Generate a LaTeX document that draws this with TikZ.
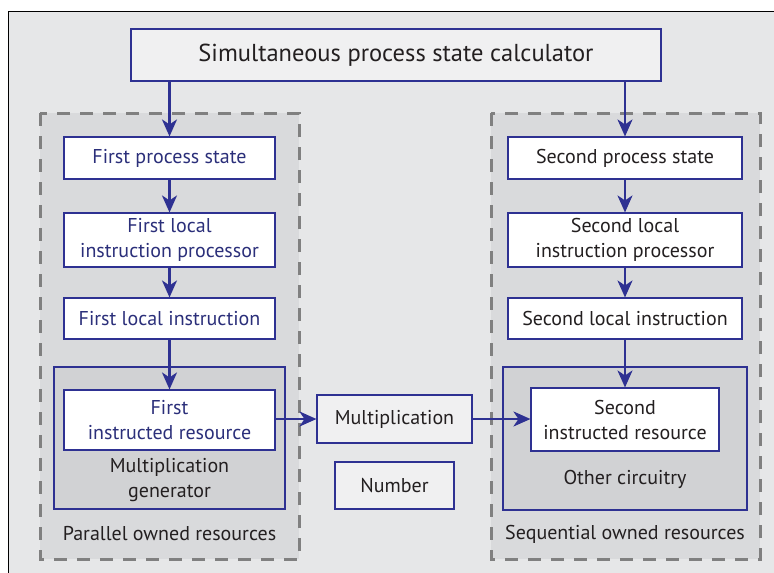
\documentclass[tikz,border=0pt]{standalone}
\usepackage{fontspec}
\setmainfont{PT Sans}
\usetikzlibrary{arrows.meta}
\definecolor{navy}{HTML}{2E3192}
\definecolor{navytext}{HTML}{2B2F7A}
\definecolor{ink}{HTML}{231F20}
\definecolor{pagebg}{HTML}{E6E7E8}
\definecolor{groupbg}{HTML}{D9DADC}
\definecolor{innerbg}{HTML}{D1D2D4}
\definecolor{lightbox}{HTML}{F0F0F1}
\definecolor{dashgray}{HTML}{808080}
\tikzset{
  box/.style={draw=navy, line width=1.1pt, fill=white, align=center,
    inner sep=0pt, font=\fontsize{20}{25}\selectfont},
  leftbox/.style={box, text=navytext},
  rightbox/.style={box, text=ink},
  greybox/.style={box, fill=lightbox, text=ink},
  groupframe/.style={draw=dashgray, line width=3pt, fill=groupbg,
    dash pattern=on 13pt off 10pt},
  innerframe/.style={draw=navy, line width=1.1pt, fill=innerbg},
  caption/.style={text=ink, align=center, font=\fontsize{20}{25}\selectfont},
  flow/.style={draw=navy, line width=2.2pt,
    -{Stealth[length=17pt, width=15pt, inset=5pt]}},
}
\begin{document}
\begin{tikzpicture}[x=1pt, y=-1pt]
\useasboundingbox (0,0) rectangle (774,573);
% page panel
\fill[pagebg] (8,11) rectangle (774,573);
\draw[black, line width=0.8pt] (8,573) -- (8,11) -- (774,11);

% owned-resource groups
\draw[groupframe] (40,113) rectangle (299,559);
\draw[groupframe] (491,113) rectangle (760,559);

% inner circuitry frames
\draw[innerframe] (54,367) rectangle (285,509);
\draw[innerframe] (503,367) rectangle (747,510);

% title
\node[greybox, minimum width=530pt, minimum height=52pt,
  font=\fontsize{24.5}{28}\selectfont] (title) at (396,55)
  {Simultaneous process state calculator};

% left column
\node[leftbox, minimum width=211pt, minimum height=42pt] (fps) at (169.5,158) {First process state};
\node[leftbox, minimum width=211pt, minimum height=54pt] (flip) at (169.5,240) {First local\\instruction processor};
\node[leftbox, minimum width=211pt, minimum height=41pt] (fli) at (169.5,318.5) {First local instruction};
\node[leftbox, minimum width=211pt, minimum height=60pt] (fir) at (169.5,420) {First\\instructed resource};
\node[caption] (mg) at (169.5,480.5) {Multiplication\\generator};
\node[caption] (por) at (169.5,534) {Parallel owned resources};

% right column
\node[rightbox, minimum width=234pt, minimum height=42pt] (sps) at (625,158) {Second process state};
\node[rightbox, minimum width=234pt, minimum height=54pt] (slip) at (625,240) {Second local\\instruction processor};
\node[rightbox, minimum width=234pt, minimum height=41pt] (sli) at (625,318.5) {Second local instruction};
\node[rightbox, minimum width=188pt, minimum height=63pt] (sir) at (625,419.5) {Second\\instructed resource};
\node[caption] (oc) at (625,479) {Other circuitry};
\node[caption] (sor) at (625,534) {Sequential owned resources};

% middle
\node[greybox, minimum width=155pt, minimum height=48pt] (mult) at (394.5,419) {Multiplication};
\node[greybox, minimum width=119pt, minimum height=47pt] (num) at (394.5,485.5) {Number};

% flow arrows
\draw[flow] (title.south -| fps) -- (fps.north);
\draw[flow] (title.south -| sps) -- (sps.north);
\draw[flow] (fps) -- (flip);
\draw[flow] (flip) -- (fli);
\draw[flow] (fli) -- (fir);
\draw[flow] (sps) -- (slip);
\draw[flow] (slip) -- (sli);
\draw[flow] (sli) -- (sir);
\draw[flow] (fir.east |- mult) -- (mult.west);
\draw[flow] (mult.east) -- (sir.west |- mult);
\end{tikzpicture}
\end{document}
